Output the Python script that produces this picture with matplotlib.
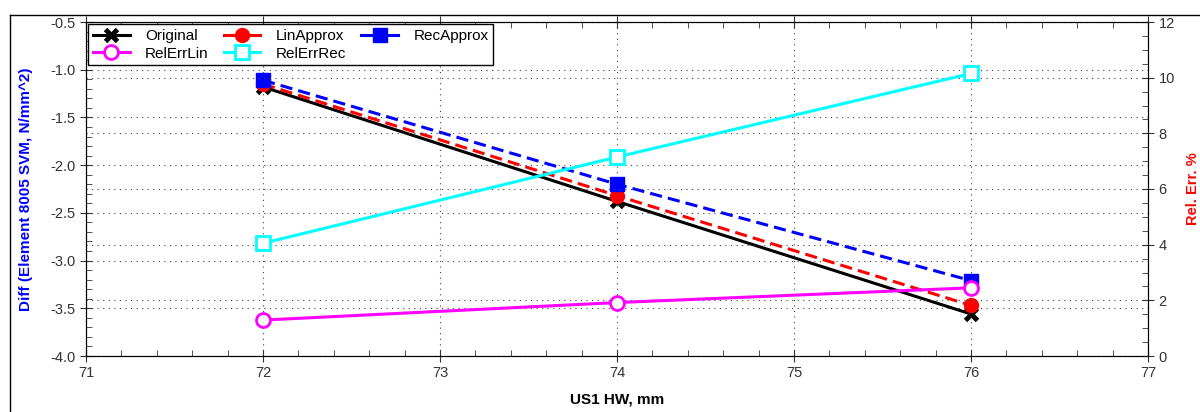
import matplotlib
matplotlib.use("Agg")
import matplotlib.pyplot as plt
from matplotlib.ticker import MultipleLocator
from matplotlib.lines import Line2D

plt.rcParams['font.family'] = ['Liberation Sans', 'DejaVu Sans']

# data
x_vals = [72, 74, 76]
original = [-1.18, -2.38, -3.56]
lin_approx = [-1.15, -2.32, -3.47]
rec_approx = [-1.11, -2.20, -3.21]
rel_err_lin = [1.29, 1.92, 2.45]
rel_err_rec = [4.05, 7.15, 10.15]

fig = plt.figure(figsize=(12, 4.12), dpi=100)
ax = fig.add_axes([86 / 1200, 1 - 356 / 412, (1148 - 86) / 1200, (356 - 22) / 412])
ax2 = ax.twinx()

# outer frame lines
fig.add_artist(Line2D([10 / 1200, 10 / 1200], [0, 1 - 15 / 412], color='black', lw=1))
fig.add_artist(Line2D([10 / 1200, 1], [1 - 15 / 412, 1 - 15 / 412], color='black', lw=1))

ax.set_xlim(71, 77)
ax.set_ylim(-4.0, -0.5)
ax2.set_ylim(0, 12)

ax.xaxis.set_major_locator(MultipleLocator(1))
ax.xaxis.set_minor_locator(MultipleLocator(0.2))
ax.yaxis.set_major_locator(MultipleLocator(0.5))
ax.yaxis.set_minor_locator(MultipleLocator(0.1))
ax2.yaxis.set_major_locator(MultipleLocator(2))
ax2.yaxis.set_minor_locator(MultipleLocator(0.5))
ax.yaxis.set_major_formatter(plt.FormatStrFormatter('%.1f'))

ax.grid(True, which='major', linestyle=(0, (1, 4)), color='#444444', lw=0.8)
ax2.grid(True, which='major', axis='y', linestyle=(0, (1, 4)), color='#444444', lw=0.8)

ax.tick_params(axis='both', which='major', direction='inout', length=8, labelsize=10.5, colors='#333333')
ax.tick_params(axis='both', which='minor', direction='in', length=4, colors='#333333')
ax.tick_params(axis='x', which='both', top=True)
ax2.tick_params(axis='y', which='major', direction='inout', length=8, labelsize=10.5, colors='#333333')
ax2.tick_params(axis='y', which='minor', direction='in', length=4, colors='#333333')

ax.plot(x_vals, original, color='black', lw=2.2, marker='x', ms=9, mew=3.5)
ax.plot(x_vals, lin_approx, color='red', lw=2.2, ls=(0, (4, 2)), marker='o', ms=10)
ax.plot(x_vals, rec_approx, color='blue', lw=2.2, ls=(0, (4, 2)), marker='s', ms=10)
ax2.plot(x_vals, rel_err_lin, color='magenta', lw=2.2, marker='o', ms=10, mfc='white', mew=2)
ax2.plot(x_vals, rel_err_rec, color='cyan', lw=2.2, marker='s', ms=10, mfc='white', mew=2)

ax.set_xlabel('US1 HW, mm', fontsize=11, fontweight='bold')
ax.xaxis.set_label_coords(0.5, -0.11)
ax.set_ylabel('Diff (Element 8005 SVM, N/mm^2)', fontsize=11, fontweight='bold', color='blue')
ax.yaxis.set_label_coords(-0.05, 0.5)
ax2.set_ylabel('Rel. Err. %', fontsize=10.5, fontweight='bold', color='red', rotation=90)
ax2.yaxis.set_label_coords(1.036, 0.5)

# legend handles are drawn solid, filled row by row
h_orig = Line2D([], [], color='black', lw=2.2, marker='x', ms=9, mew=3.5)
h_lin = Line2D([], [], color='red', lw=2.2, marker='o', ms=10)
h_rec = Line2D([], [], color='blue', lw=2.2, marker='s', ms=10)
h_rel_lin = Line2D([], [], color='magenta', lw=2.2, marker='o', ms=10, mfc='white', mew=2)
h_rel_rec = Line2D([], [], color='cyan', lw=2.2, marker='s', ms=10, mfc='white', mew=2)
handles = [h_orig, h_rel_lin, h_lin, h_rel_rec, h_rec]
labels = ['Original', 'RelErrLin', 'LinApprox', 'RelErrRec', 'RecApprox']

leg = ax.legend(handles, labels, loc='upper left', ncol=3, fontsize=11,
                frameon=True, fancybox=False, edgecolor='black', framealpha=1,
                borderaxespad=0.15, handlelength=2.4, handletextpad=1.0, columnspacing=1.0,
                borderpad=0.3, labelspacing=0.25)
leg.get_frame().set_linewidth(1)
leg.remove()
ax2.add_artist(leg)

fig.savefig('out.png', dpi=100)
